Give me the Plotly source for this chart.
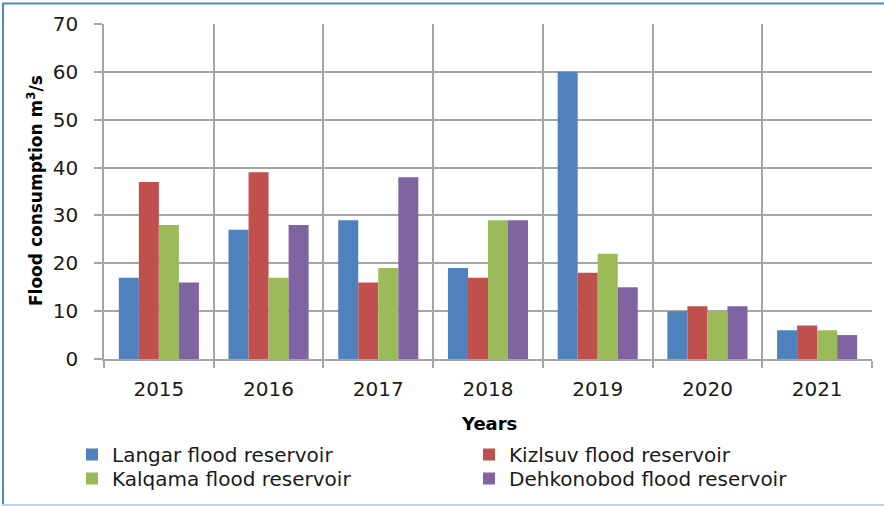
import plotly.graph_objects as go

years = ["2015", "2016", "2017", "2018", "2019", "2020", "2021"]
langar = [17, 27, 29, 19, 60, 10, 6]
kizlsuv = [37, 39, 16, 17, 18, 11, 7]
kalqama = [28, 17, 19, 29, 22, 10, 6]
dehkonobod = [16, 28, 38, 29, 15, 11, 5]

series_names = ["Langar flood reservoir", "Kizlsuv flood reservoir",
                "Kalqama flood reservoir", "Dehkonobod flood reservoir"]
series_values = [langar, kizlsuv, kalqama, dehkonobod]
colors = ["#4F81BD", "#C0504D", "#9BBB59", "#8064A2"]
legend_rows = ["legend", "legend", "legend2", "legend2"]

FONT = "DejaVu Sans"
W, H = 884, 506
L, R, T, B = 104, 12, 24, 147
pw, ph = W - L - R, H - T - B

fig = go.Figure()
for name, vals, c, lg in zip(series_names, series_values, colors, legend_rows):
    fig.add_trace(go.Bar(x=years, y=vals, name=name, legend=lg,
                         marker=dict(color=c, line=dict(width=0))))

def px_x(x):
    return (x - L) / pw

def px_y(y):
    return (H - B - y) / ph

legend_common = dict(orientation="h", x=px_x(72), xanchor="left", yanchor="top",
                     entrywidth=352, entrywidthmode="pixels",
                     font=dict(family=FONT, size=20, color="#1a1a1a"),
                     bgcolor="rgba(0,0,0,0)", itemwidth=30, traceorder="normal")

fig.update_layout(
    width=W, height=H,
    margin=dict(l=L, r=R, t=T, b=B, pad=0, autoexpand=False),
    paper_bgcolor="white", plot_bgcolor="white",
    barmode="group", bargap=0.27, bargroupgap=0,
    font=dict(family=FONT, color="#1a1a1a"),
    showlegend=True,
    legend=dict(y=px_y(435), **legend_common),
    legend2=dict(y=px_y(459), **legend_common),
    xaxis=dict(type="category", tickson="boundaries", ticks="outside", ticklen=7,
               tickcolor="#A6A6A6", tickwidth=1.5, automargin=False,
               showgrid=True, gridcolor="#A6A6A6", gridwidth=1.5,
               showline=True, linecolor="#A6A6A6", linewidth=1.5,
               tickfont=dict(family=FONT, size=20, color="#1a1a1a"),
               ticklabelstandoff=11),
    yaxis=dict(range=[0, 70], dtick=10, ticks="outside", ticklen=8,
               tickcolor="#A6A6A6", tickwidth=1.5, automargin=False,
               showgrid=True, gridcolor="#A6A6A6", gridwidth=1.5,
               showline=True, linecolor="#A6A6A6", linewidth=1.5,
               zeroline=False,
               tickfont=dict(family=FONT, size=20, color="#1a1a1a"),
               ticklabelstandoff=12),
)

fig.add_annotation(text="<b>Flood consumption m<sup>3</sup>/s</b>", textangle=-90,
                   xref="paper", yref="paper", x=px_x(35), y=px_y(191),
                   xanchor="center", yanchor="middle",
                   showarrow=False, font=dict(family=FONT, size=17, color="black"))
fig.add_annotation(text="<b>Years</b>", xref="paper", yref="paper",
                   x=px_x(489), y=px_y(423), xanchor="center", yanchor="middle",
                   showarrow=False, font=dict(family=FONT, size=18, color="black"))

# outer chart border (top, left, bottom)
fig.add_shape(type="line", xref="paper", yref="paper", x0=px_x(2), x1=px_x(884),
              y0=px_y(3.5), y1=px_y(3.5), line=dict(color="#4A8BD0", width=2))
fig.add_shape(type="line", xref="paper", yref="paper", x0=px_x(3), x1=px_x(3),
              y0=px_y(3), y1=px_y(505), line=dict(color="#4A8BD0", width=2))
fig.add_shape(type="line", xref="paper", yref="paper", x0=px_x(2), x1=px_x(884),
              y0=px_y(505), y1=px_y(505), line=dict(color="#B8D3EE", width=2))

fig.write_html("out.html", config={"displayModeBar": False},
               post_script="document.body.style.margin='0';document.body.style.overflow='hidden';")
